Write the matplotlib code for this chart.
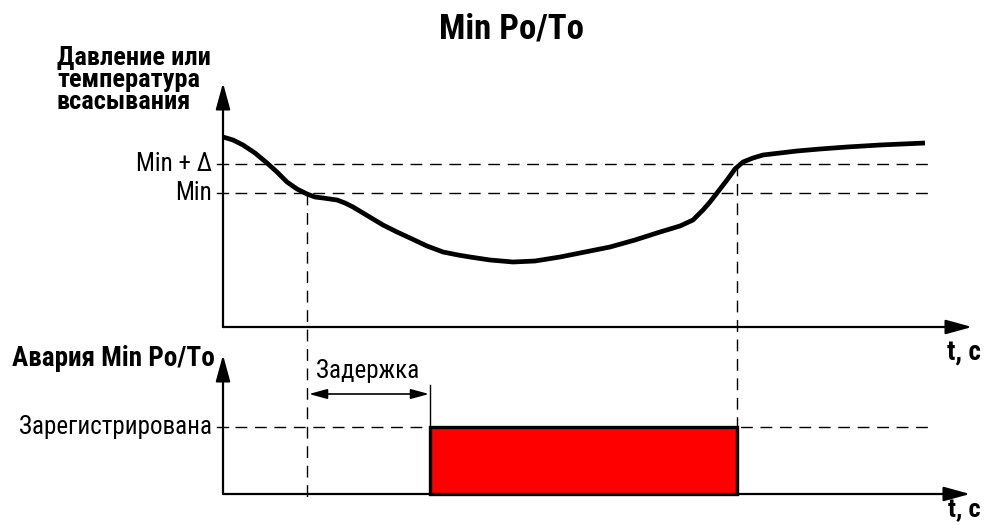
import matplotlib
matplotlib.use("Agg")
import matplotlib.pyplot as plt
from matplotlib.patches import Rectangle

plt.rcParams['font.family'] = ['Roboto Condensed', 'DejaVu Sans']

# curve of pressure / suction temperature (picture coords, y grows downward)
curve_x = [223, 233, 243, 255, 267, 277, 287, 297, 307, 315, 323, 330, 337, 345, 353,
           368, 383, 397, 410, 427, 443, 458, 470, 490, 513, 535, 560, 585, 610, 635,
           660, 680, 693, 703, 710, 717, 727, 735, 743, 753, 763, 780, 797, 820, 847,
           880, 925]
curve_y = [137, 140, 145, 153, 163, 172, 182, 189, 194, 197, 198, 199, 200, 203, 207,
           216, 225, 232, 238, 246, 252, 255, 257, 260, 262, 261, 257, 252, 247, 240,
           232, 226, 220, 210, 202, 193, 180, 169, 162, 158, 155, 153, 151, 149, 147,
           145, 143]

level_min_delta = 164
level_min = 193
t_below_min = 307
t_above_delta = 737

alarm_on = 430
alarm_off = 737
alarm_high = 427
alarm_low = 494

level_labels = ["Min + \u0394", "Min"]
top_ylabel = "Давление или\nтемпература\nвсасывания"
bottom_ylabel = "Авария Min Po/To"
alarm_label = "Зарегистрирована"
delay_label = "Задержка"
time_label = "t, c"
title = "Min Po/To"

fig = plt.figure(figsize=(9.85, 5.25), dpi=100)
ax = fig.add_axes([0, 0, 1, 1])
ax.set_xlim(0, 985)
ax.set_ylim(525, 0)
ax.axis("off")

axis_x = 223
top_base = 327
bot_base = 494
dash_kw = dict(color="black", lw=1.0, dashes=(8.5, 5.5))

def axis_arrow(x0, y0, x1, y1):
    ax.annotate("", xy=(x1, y1), xytext=(x0, y0),
                arrowprops=dict(arrowstyle="-|>,head_length=0.8,head_width=0.22",
                                mutation_scale=20, lw=1.6, color="black",
                                shrinkA=0, shrinkB=0))

# axes of the two panels
axis_arrow(axis_x, top_base, axis_x, 83)
axis_arrow(axis_x, top_base, 972, top_base)
axis_arrow(axis_x, bot_base, axis_x, 355)
axis_arrow(axis_x, bot_base, 970, bot_base)

# level lines
for lev, lab in zip([level_min_delta, level_min], level_labels):
    ax.plot([217, 228], [lev, lev], color="black", lw=1.0)
    ax.plot([235, 933], [lev, lev], **dash_kw)
    ax.text(212, lev, lab, ha="right", va="center", fontsize=18)

ax.plot([217, 228], [alarm_high, alarm_high], color="black", lw=1.0)
ax.plot([235, 933], [alarm_high, alarm_high], **dash_kw)
ax.text(212, alarm_high, alarm_label, ha="right", va="center", fontsize=18)

# vertical markers
ax.plot([t_below_min, t_below_min], [level_min, 498], **dash_kw)
ax.plot([t_above_delta, t_above_delta], [level_min_delta, alarm_high], **dash_kw)

# the curve
ax.plot(curve_x, curve_y, color="black", lw=3.4, solid_capstyle="butt",
        solid_joinstyle="round", zorder=5)

# alarm state
ax.add_patch(Rectangle((alarm_on, alarm_high), alarm_off - alarm_on, alarm_low - alarm_high,
                       facecolor="#ff0000", edgecolor="black", lw=2.4, zorder=4))

# delay arrow
ax.plot([alarm_on, alarm_on], [385, alarm_high], color="black", lw=1.0)
ax.annotate("", xy=(alarm_on - 1, 394), xytext=(t_below_min + 2, 394),
            arrowprops=dict(arrowstyle="<|-|>,head_length=0.55,head_width=0.15",
                            mutation_scale=20, lw=1.2, color="black",
                            shrinkA=0, shrinkB=0))
ax.text(368, 371, delay_label, ha="center", va="center", fontsize=18)

# texts
ax.text(511, 29, title, ha="center", va="center", fontsize=25, fontweight="bold")
ax.text(57, 46, top_ylabel, ha="left", va="top", fontsize=19, fontweight="bold",
        linespacing=0.9)
ax.text(12, 359, bottom_ylabel, ha="left", va="center", fontsize=19.5, fontweight="bold")
ax.text(964, 352, time_label, ha="center", va="center", fontsize=19.5, fontweight="bold")
ax.text(964, 510, time_label, ha="center", va="center", fontsize=19, fontweight="bold")

fig.savefig("out.png", dpi=100)
